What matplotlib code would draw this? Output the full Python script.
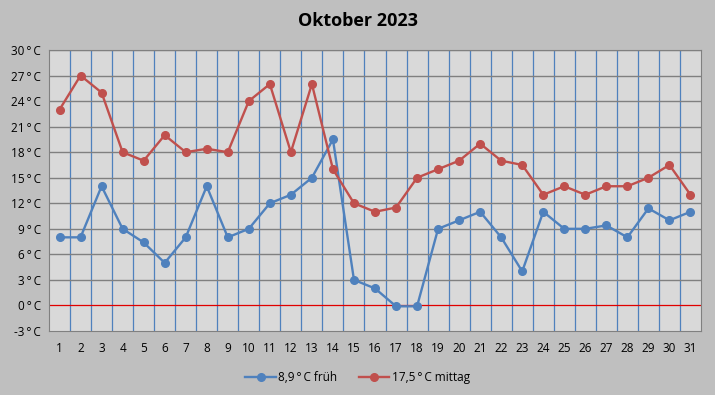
import matplotlib.pyplot as plt

days = list(range(1, 32))
frueh = [8, 8, 14, 9, 7.4, 5, 8, 14, 8, 9, 12, 13, 15, 19.5, 3, 2, -0.1, -0.1,
         9, 10, 11, 8, 4, 11, 9, 9, 9.4, 8, 11.4, 10, 11]
mittag = [23, 27, 25, 18, 17, 20, 18, 18.4, 18, 24, 26, 18, 26, 16, 12, 11, 11.5,
          15, 16, 17, 19, 17, 16.5, 13, 14, 13, 14, 14, 15, 16.5, 13]
yticks = list(range(-3, 31, 3))

blue = '#4F81BD'
red = '#C0504D'

plt.rcParams['font.family'] = ['Open Sans', 'DejaVu Sans']

fig = plt.figure(figsize=(7.15, 3.95), dpi=100, facecolor='#BFBFBF')
ax = fig.add_axes([49 / 715, 64 / 395, 652 / 715, 281 / 395])
ax.set_facecolor('#D9D9D9')

# vertical blue lines between the days
for x in range(1, 31):
    ax.axvline(x + 0.5, color=blue, linewidth=0.9, zorder=1)
for y in yticks[1:]:
    if y != 0:
        ax.axhline(y, color='#808080', linewidth=1, zorder=1)
ax.axhline(0, color='#E00000', linewidth=0.9, zorder=2)

ax.plot(days, frueh, color=blue, marker='o', markersize=5.5, linewidth=1.7,
        label='8,9\u2009°\u2009C früh', zorder=3)
ax.plot(days, mittag, color=red, marker='o', markersize=5.5, linewidth=1.7,
        label='17,5\u2009°\u2009C mittag', zorder=3)

ax.set_xlim(0.5, 31.5)
ax.set_ylim(-3, 30)
ax.set_xticks(days)
ax.set_xticklabels([str(d) for d in days], fontsize=8.5)
ax.set_yticks(yticks)
ax.set_yticklabels([f'{v}\u2009°\u2009C' for v in yticks], fontsize=8.5)
ax.tick_params(length=0, pad=8)
ax.tick_params(axis='y', pad=6)
for s in ax.spines.values():
    s.set_color('#808080')

fig.suptitle('Oktober 2023', fontsize=13, fontweight='bold', y=0.97)
fig.legend(loc='center', bbox_to_anchor=(0.5, 0.045), ncol=2, frameon=False,
           fontsize=8.5, handlelength=2.6, columnspacing=1.8, handletextpad=0.2)

plt.savefig('out.png', dpi=100, facecolor=fig.get_facecolor())
plt.close()
